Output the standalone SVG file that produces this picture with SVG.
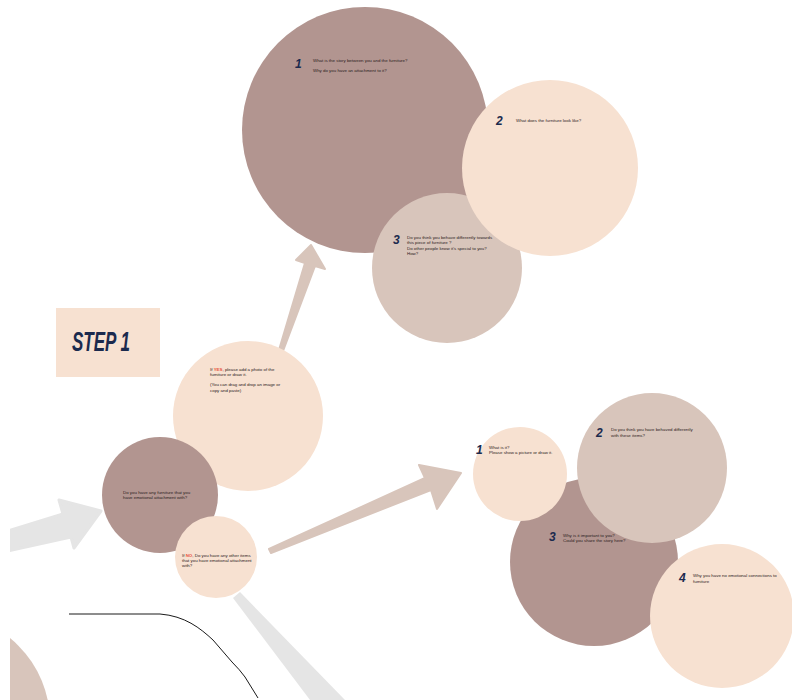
<svg xmlns="http://www.w3.org/2000/svg" width="792" height="700" viewBox="0 0 792 700">
<defs>
<clipPath id="clipL"><rect x="10" y="0" width="782" height="700"/></clipPath>
<style>
.dark{fill:#b29590}
.peach{fill:#f7e1d1}
.tan{fill:#d8c5bb}
.t{font-family:"Liberation Sans",Arial,sans-serif;font-size:4.4px;fill:#2a2020}
.red{fill:#e8553e;font-weight:bold}
.num{font-family:"Liberation Sans",Arial,sans-serif;font-size:12px;font-weight:bold;font-style:italic;fill:#1b2a4e}
.step{font-family:"Liberation Sans",Arial,sans-serif;font-size:28px;font-weight:bold;font-style:italic;fill:#1b2a4e}
.grayarrow{fill:#e5e5e5;stroke:#e5e5e5;stroke-width:3;stroke-linejoin:round}
.tanarrow{fill:#d8c5bb;stroke:#d8c5bb;stroke-width:2;stroke-linejoin:round}
</style>
</defs>
<rect width="792" height="700" fill="#ffffff"/>

<g id="bg-shapes" clip-path="url(#clipL)">
<circle class="tan" cx="-58" cy="722" r="108"/>
<path d="M69,614 L160,614 C185,616 200,628 213,640 L232,662 Q240,670 245,677 L258,698" fill="none" stroke="#1a1a1a" stroke-width="1"/>
</g>

<g id="connectors" clip-path="url(#clipL)">
<polygon class="grayarrow" points="8,531 63,514 59,500 101,511 74,548 71,537 8,551"/>
<polygon class="tanarrow" points="269,549 425,478 419,465 461,473 437,509 431,490 271,553"/>
<polygon class="tanarrow" points="279,350 305,263 296,260 311,245 325,269 315,266 283,351"/>
<polygon fill="#e5e5e5" points="233,598 240,592 345,700 310,700"/>
</g>

<g id="step1">
<rect class="peach" x="56" y="308" width="104" height="69"/>
<text class="step" x="72" y="351" textLength="58" lengthAdjust="spacingAndGlyphs">STEP 1</text>
</g>

<g id="q1-story">
<circle class="dark" cx="365" cy="130" r="123"/>
<text class="num" x="295" y="68">1</text>
<text class="t" x="313" y="62">What is the story between you and the furniture?</text>
<text class="t" x="313" y="72">Why do you have an attachment to it?</text>
</g>

<g id="q3-behave">
<circle class="tan" cx="447" cy="268" r="75"/>
<text class="num" x="393" y="244">3</text>
<text class="t" x="407" y="239">Do you think you behave differently towards</text>
<text class="t" x="407" y="244">this piece of furniture ?</text>
<text class="t" x="407" y="250">Do other people know it's special to you?</text>
<text class="t" x="407" y="255">How?</text>
</g>

<g id="q2-look">
<circle class="peach" cx="550" cy="168" r="88"/>
<text class="num" x="496" y="125">2</text>
<text class="t" x="516" y="122">What does the furniture look like?</text>
</g>

<g id="yes">
<circle class="peach" cx="248" cy="416" r="75"/>
<text class="t" x="210" y="371">If <tspan class="red">YES</tspan>, please add a photo of the</text>
<text class="t" x="210" y="376">furniture or draw it.</text>
<text class="t" x="210" y="386">(You can drag and drop an image or</text>
<text class="t" x="210" y="392">copy and paste)</text>
</g>

<g id="start">
<circle class="dark" cx="160" cy="495" r="58"/>
<text class="t" x="123" y="494">Do you have any furniture that you</text>
<text class="t" x="123" y="499">have emotional attachment with?</text>
</g>

<g id="no">
<circle class="peach" cx="216" cy="557" r="41"/>
<text class="t" x="182" y="557">If <tspan class="red">NO</tspan>, Do you have any other items</text>
<text class="t" x="182" y="562">that you have emotional attachment</text>
<text class="t" x="182" y="567">with?</text>
</g>

<g id="r3-important">
<circle class="dark" cx="594" cy="562" r="84"/>
<text class="num" x="549" y="541">3</text>
<text class="t" x="563" y="537">Why is it important to you?</text>
<text class="t" x="563" y="542">Could you share the story here?</text>
</g>

<g id="r1-what">
<circle class="peach" cx="520" cy="474" r="47"/>
<text class="num" x="476" y="454">1</text>
<text class="t" x="489" y="449">What is it?</text>
<text class="t" x="489" y="454">Please show a picture or draw it.</text>
</g>

<g id="r2-behaved">
<circle class="tan" cx="652" cy="468" r="75"/>
<text class="num" x="596" y="437">2</text>
<text class="t" x="611" y="431">Do you think you have behaved differently</text>
<text class="t" x="611" y="437">with these items?</text>
</g>

<g id="r4-none">
<circle class="peach" cx="722" cy="616" r="72"/>
<text class="num" x="679" y="582">4</text>
<text class="t" x="693" y="577">Why you have no emotional connections to</text>
<text class="t" x="693" y="583">furniture</text>
</g>
</svg>
